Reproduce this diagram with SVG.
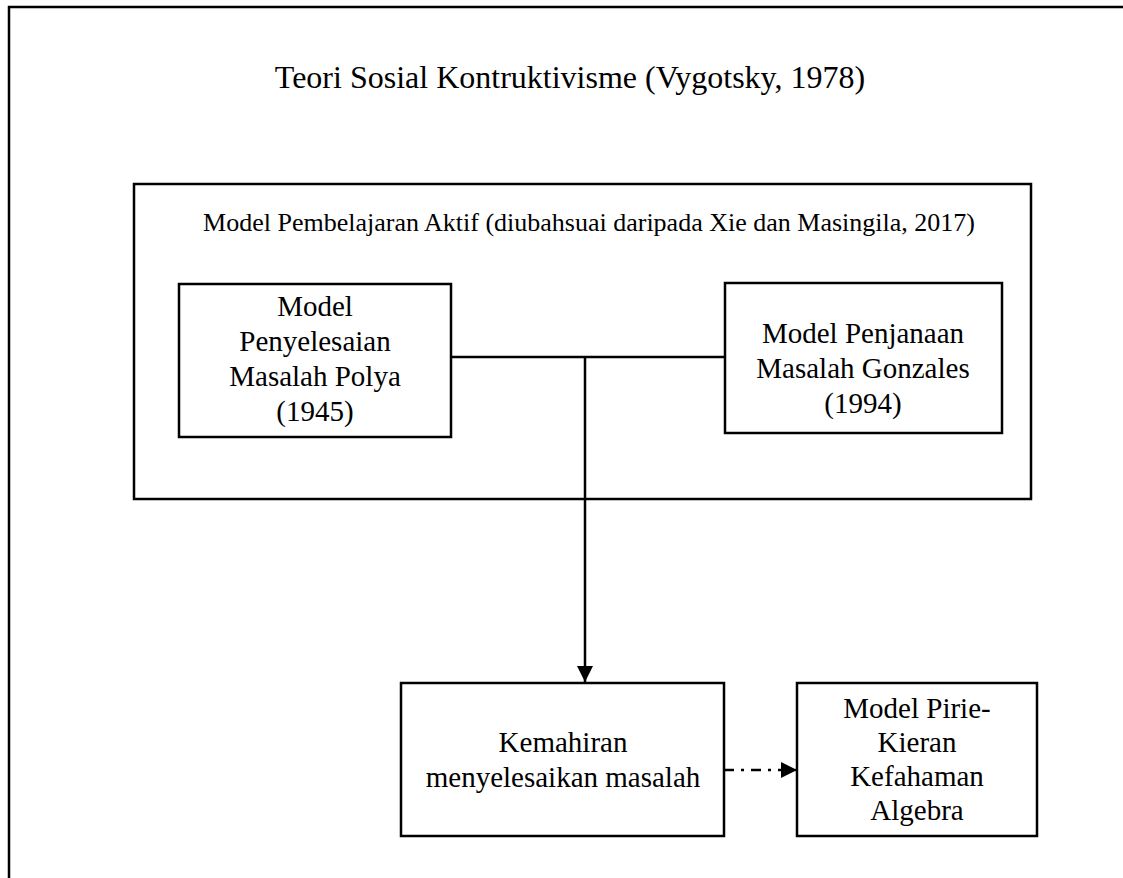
<svg xmlns="http://www.w3.org/2000/svg" width="1123" height="878" viewBox="0 0 1123 878">
<style>
.box{fill:#fff;stroke:#000;stroke-width:2.5}
.t{font-family:"Liberation Serif","Times New Roman",serif;fill:#000;text-anchor:middle}
.b{font-size:29px}
.c{fill:none;stroke:#000;stroke-width:2.5}
</style>
<defs>
<marker id="ah" viewBox="0 0 10 10" refX="10" refY="5" markerWidth="16" markerHeight="16" markerUnits="userSpaceOnUse" orient="auto">
<path d="M0,0 L10,5 L0,10 Z" fill="#000"/>
</marker>
</defs>
<rect width="1123" height="878" fill="#fff"/>
<g id="frame">
<rect x="9" y="7" width="1130" height="900" fill="none" stroke="#000" stroke-width="2.5"/>
<text class="t" x="570" y="88" font-size="32">Teori Sosial Kontruktivisme (Vygotsky, 1978)</text>
</g>
<g id="aktif">
<rect class="box" x="134" y="184" width="897" height="315"/>
<text class="t" x="589" y="231" font-size="26">Model Pembelajaran Aktif (diubahsuai daripada Xie dan Masingila, 2017)</text>
</g>
<g id="polya">
<rect class="box" x="179" y="284" width="272" height="153"/>
<text class="t b" x="315" y="316">Model</text>
<text class="t b" x="315" y="351">Penyelesaian</text>
<text class="t b" x="315" y="386">Masalah Polya</text>
<text class="t b" x="315" y="421">(1945)</text>
</g>
<g id="gonzales">
<rect class="box" x="725" y="283" width="277" height="150"/>
<text class="t b" x="863" y="343">Model Penjanaan</text>
<text class="t b" x="863" y="378">Masalah Gonzales</text>
<text class="t b" x="863" y="413">(1994)</text>
</g>
<g id="kemahiran">
<rect class="box" x="401" y="683" width="323" height="153"/>
<text class="t b" x="563" y="752">Kemahiran</text>
<text class="t b" x="563" y="787">menyelesaikan masalah</text>
</g>
<g id="pirie">
<rect class="box" x="797" y="683" width="240" height="153"/>
<text class="t b" x="917" y="718">Model Pirie-</text>
<text class="t b" x="917" y="752">Kieran</text>
<text class="t b" x="917" y="786">Kefahaman</text>
<text class="t b" x="917" y="820">Algebra</text>
</g>
<g id="connectors">
<line class="c" x1="451" y1="357" x2="725" y2="357"/>
<line class="c" x1="585" y1="357" x2="585" y2="682" marker-end="url(#ah)"/>
<line class="c" x1="724" y1="770" x2="797" y2="770" stroke-dasharray="10 7 3 7" marker-end="url(#ah)"/>
</g>
</svg>
